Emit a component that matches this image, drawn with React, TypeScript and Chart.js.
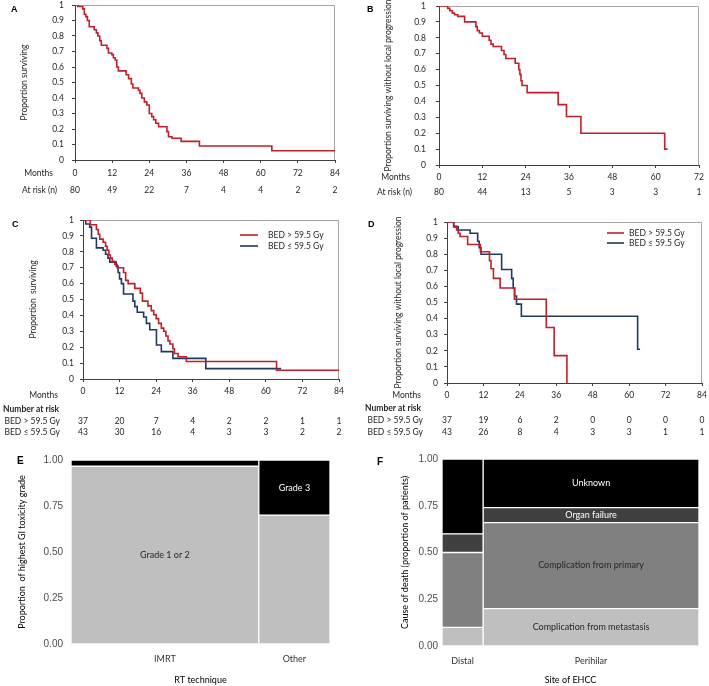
import React, { useEffect, useRef } from 'react';
import { Chart, registerables } from 'chart.js';

Chart.register(...registerables);

const SANS = 'Lato, "Open Sans", sans-serif';
const LETTER_FONT = '"Liberation Sans", Arial, sans-serif';
const TXT = '#262626';
const AXIS = '#404040';
const FRAME = '#a6a6a6';
const RED = '#c0202a';
const NAVY = '#203864';

// ---------- Panel A: overall survival ----------
const osMonths = [0, 0.9, 2.5, 3.0, 3.5, 4.0, 4.6, 6.2, 6.9, 7.4, 8.0, 8.5, 10.3, 10.8, 11.9, 12.4, 13.0, 13.5, 14.0, 16.5, 17.3, 18.2, 18.7, 20.5, 21.0, 21.6, 22.4, 23.2, 24.0, 24.8, 25.4, 26.1, 27.0, 29.7, 30.2, 31.3, 34.3, 40.2, 63.6, 84];
const osProb = [1, 0.99, 0.975, 0.94, 0.925, 0.9, 0.86, 0.84, 0.82, 0.8, 0.77, 0.74, 0.72, 0.69, 0.68, 0.66, 0.645, 0.6, 0.575, 0.55, 0.525, 0.49, 0.465, 0.45, 0.43, 0.4, 0.375, 0.355, 0.3, 0.28, 0.26, 0.237, 0.215, 0.183, 0.15, 0.14, 0.12, 0.09, 0.06, 0.06];
const riskMonths84 = [0, 12, 24, 36, 48, 60, 72, 84];
const riskMonths72 = [0, 12, 24, 36, 48, 60, 72];
const osAtRisk = [80, 49, 22, 7, 4, 4, 2, 2];

// ---------- Panel B: survival without local progression ----------
const lpMonths = [0, 2.4, 3.0, 3.7, 4.3, 5.2, 7.1, 10.2, 10.6, 11.2, 12.0, 13.9, 14.4, 15.0, 17.3, 18.0, 18.5, 21.1, 22.1, 22.4, 22.7, 23.0, 24.4, 33.0, 35.3, 39.3, 62.5, 63.3];
const lpProb = [1, 0.985, 0.97, 0.955, 0.945, 0.935, 0.9, 0.87, 0.845, 0.83, 0.81, 0.785, 0.76, 0.745, 0.72, 0.695, 0.67, 0.64, 0.6, 0.57, 0.53, 0.5, 0.455, 0.38, 0.305, 0.2, 0.1, 0.1];
const lpAtRisk = [80, 44, 13, 5, 3, 3, 1];

// ---------- Panel C: survival by BED ----------
const osHighMonths = [0, 2.4, 4.4, 5.0, 5.5, 6.6, 7.4, 7.9, 8.5, 9.0, 9.6, 10.4, 11.2, 13.3, 14.0, 14.8, 17.0, 18.8, 19.5, 21.3, 22.4, 23.2, 24.0, 24.8, 25.7, 26.5, 27.2, 27.9, 28.5, 29.5, 30.0, 31.2, 33.9, 63.5, 84];
const osHighProb = [1, 0.97, 0.94, 0.91, 0.88, 0.86, 0.835, 0.81, 0.78, 0.76, 0.74, 0.72, 0.7, 0.67, 0.62, 0.6, 0.57, 0.54, 0.49, 0.46, 0.43, 0.405, 0.38, 0.35, 0.32, 0.3, 0.27, 0.24, 0.22, 0.19, 0.16, 0.14, 0.11, 0.055, 0.055];
const osLowMonths = [0, 0.9, 2.2, 2.8, 4.4, 6.6, 7.4, 8.2, 8.8, 10.9, 11.5, 12.0, 12.6, 13.3, 16.4, 17.0, 17.8, 19.9, 20.8, 21.9, 24.1, 25.7, 29.5, 40.3, 65.0];
const osLowProb = [1, 0.975, 0.955, 0.885, 0.825, 0.81, 0.785, 0.76, 0.735, 0.71, 0.67, 0.63, 0.6, 0.535, 0.49, 0.455, 0.42, 0.39, 0.35, 0.31, 0.214, 0.172, 0.13, 0.065, 0.065];
const osHighAtRisk = [37, 20, 7, 4, 2, 2, 1, 1];
const osLowAtRisk = [43, 30, 16, 4, 3, 3, 2, 2];

// ---------- Panel D: survival without local progression by BED ----------
const lpHighMonths = [0, 2.2, 3.2, 3.7, 4.3, 6.8, 11.0, 14.0, 14.5, 15.3, 17.5, 22.2, 32.7, 35.3, 39.5];
const lpHighProb = [1, 0.975, 0.95, 0.93, 0.91, 0.86, 0.815, 0.76, 0.71, 0.65, 0.59, 0.52, 0.345, 0.17, 0];
const lpLowMonths = [0, 2.2, 3.7, 7.6, 10.1, 10.6, 11.2, 18.0, 21.3, 21.8, 22.3, 22.9, 24.5, 62.8, 63.6];
const lpLowProb = [1, 0.97, 0.95, 0.93, 0.88, 0.84, 0.8, 0.705, 0.65, 0.59, 0.54, 0.49, 0.415, 0.21, 0.21];
const lpHighAtRisk = [37, 19, 6, 2, 0, 0, 0, 0];
const lpLowAtRisk = [43, 26, 8, 4, 3, 3, 1, 1];

const bedHigh = 'BED > 59.5 Gy';
const bedLow = 'BED \u2264 59.5 Gy';

// ---------- Panel E: GI toxicity by RT technique ----------
const techniques = ['IMRT', 'Other'];
const techShare = [0.725, 0.275];
const grade12 = [0.966, 0.7];
const grade3 = [0.034, 0.3];

// ---------- Panel F: cause of death by site ----------
const sites = ['Distal', 'Perihilar'];
const siteShare = [0.16, 0.84];
const deathMetastasis = [0.1, 0.2];
const deathPrimary = [0.4, 0.46];
const deathOrgan = [0.1, 0.08];
const deathUnknown = [0.4, 0.26];

type Area = { l: number; t: number; r: number; b: number };

function fixedScale(size: number) {
  return (scale: any) => {
    if (scale.isHorizontal()) scale.height = size;
    else scale.width = size;
    scale.paddingLeft = 0;
    scale.paddingRight = 0;
    scale.paddingTop = 0;
    scale.paddingBottom = 0;
  };
}

const framePlugin = {
  id: 'frame',
  beforeDraw(chart: any) {
    const { ctx, chartArea: a } = chart;
    ctx.save();
    ctx.strokeStyle = FRAME;
    ctx.lineWidth = 1;
    ctx.beginPath();
    ctx.moveTo(a.left, a.top + 0.5);
    ctx.lineTo(a.right - 0.5, a.top + 0.5);
    ctx.lineTo(a.right - 0.5, a.bottom);
    ctx.stroke();
    ctx.restore();
  },
};

type TextItem = { text: string; x: number; y: number; align: CanvasTextAlign; bold?: boolean };
type CountRow = { values: number[]; months: number[]; y: number };

function tablePlugin(texts: TextItem[], rows: CountRow[]) {
  return {
    id: 'riskTable',
    afterDraw(chart: any) {
      const { ctx } = chart;
      const xs = chart.scales.x;
      ctx.save();
      ctx.fillStyle = TXT;
      ctx.textBaseline = 'middle';
      texts.forEach((t) => {
        ctx.font = `${t.bold ? 'bold ' : ''}8.5px ${SANS}`;
        ctx.textAlign = t.align;
        ctx.fillText(t.text, t.x, t.y);
      });
      ctx.font = `8.5px ${SANS}`;
      ctx.textAlign = 'center';
      rows.forEach((r) =>
        r.values.forEach((v, i) => ctx.fillText(String(v), xs.getPixelForValue(r.months[i]), r.y))
      );
      ctx.restore();
    },
  };
}

function legendPlugin(ys: number[], x0: number, x1: number, tx: number) {
  return {
    id: 'kmLegend',
    afterDraw(chart: any) {
      const { ctx } = chart;
      ctx.save();
      ctx.font = `8.5px ${SANS}`;
      ctx.textAlign = 'left';
      ctx.textBaseline = 'middle';
      chart.data.datasets.forEach((ds: any, i: number) => {
        ctx.strokeStyle = ds.borderColor;
        ctx.lineWidth = 1.6;
        ctx.beginPath();
        ctx.moveTo(x0, ys[i]);
        ctx.lineTo(x1, ys[i]);
        ctx.stroke();
        ctx.fillStyle = TXT;
        ctx.fillText(ds.label, tx, ys[i]);
      });
      ctx.restore();
    },
  };
}

type Curve = { label: string; months: number[]; probs: number[]; color: string };

function kmConfig(o: {
  w: number;
  h: number;
  area: Area;
  xMax: number;
  curves: Curve[];
  yTitle: string;
  yTitleX: number;
  yTickPad: number;
  xTickPad: number;
  extra: any[];
}) {
  const tickFont = { family: SANS, size: 8.5 };
  return {
    type: 'line',
    data: {
      datasets: o.curves.map((c) => ({
        label: c.label,
        data: c.months.map((m, i) => ({ x: m, y: c.probs[i] })),
        borderColor: c.color,
        backgroundColor: c.color,
        borderWidth: 1.6,
        pointRadius: 0,
        stepped: 'before',
        fill: false,
      })),
    },
    options: {
      responsive: false,
      animation: false,
      events: [],
      layout: { padding: { left: 0, top: o.area.t, right: o.w - o.area.r, bottom: 0 } },
      plugins: { legend: { display: false }, tooltip: { enabled: false } },
      scales: {
        x: {
          type: 'linear',
          min: 0,
          max: o.xMax,
          afterFit: fixedScale(o.h - o.area.b),
          ticks: { stepSize: 12, font: tickFont, color: TXT, padding: o.xTickPad, maxRotation: 0 },
          grid: { display: true, drawOnChartArea: false, drawTicks: true, tickLength: 3, color: AXIS },
          border: { display: true, color: AXIS, width: 1 },
        },
        y: {
          type: 'linear',
          min: 0,
          max: 1,
          afterFit: fixedScale(o.area.l),
          ticks: {
            stepSize: 0.1,
            font: tickFont,
            color: TXT,
            padding: o.yTickPad,
            callback: (v: any) => String(Math.round(Number(v) * 10) / 10),
          },
          grid: { display: true, drawOnChartArea: false, drawTicks: true, tickLength: 3, color: AXIS },
          border: { display: true, color: AXIS, width: 1 },
          title: {
            display: true,
            text: o.yTitle,
            font: { family: SANS, size: 8.5 },
            color: TXT,
            padding: { top: o.yTitleX - 5.1, bottom: 0 },
          },
        },
      },
    },
    plugins: [framePlugin, ...o.extra],
  };
}

type Seg = { label: string; color: string; values: number[]; textColor: string; labelCol: number };

function mosaicConfig(o: {
  w: number;
  h: number;
  area: Area;
  names: string[];
  shares: number[];
  segs: Seg[];
  yTitle: string;
  yTitleX: number;
  xTitle: string;
  yTickPad: number;
  xTickPad: number;
}) {
  const plotW = o.area.r - o.area.l;
  const starts: number[] = [];
  o.shares.reduce((acc, s) => {
    starts.push(acc);
    return acc + s;
  }, 0);
  const centers = starts.map((s, i) => s + o.shares[i] / 2);
  const datasets: any[] = [];
  o.names.forEach((name, i) => {
    let lo = 0;
    o.segs.forEach((seg) => {
      const hi = lo + seg.values[i];
      datasets.push({
        label: `${seg.label} (${name})`,
        data: [{ x: centers[i], y: [lo, hi] }],
        backgroundColor: seg.color,
        borderColor: '#ffffff',
        borderWidth: 1,
        borderSkipped: false,
        barThickness: o.shares[i] * plotW,
        stack: 'mosaic',
      });
      lo = hi;
    });
  });
  const segLabels = {
    id: 'segLabels',
    afterDatasetsDraw(chart: any) {
      const { ctx } = chart;
      const xs = chart.scales.x;
      const ys = chart.scales.y;
      ctx.save();
      ctx.font = `9px ${SANS}`;
      ctx.textAlign = 'center';
      ctx.textBaseline = 'middle';
      o.segs.forEach((seg, k) => {
        const i = seg.labelCol;
        let lo = 0;
        for (let j = 0; j < k; j++) lo += o.segs[j].values[i];
        const mid = lo + seg.values[i] / 2;
        ctx.fillStyle = seg.textColor;
        ctx.fillText(seg.label, xs.getPixelForValue(centers[i]), ys.getPixelForValue(mid));
      });
      ctx.restore();
    },
  };
  return {
    type: 'bar',
    data: { datasets },
    options: {
      responsive: false,
      animation: false,
      events: [],
      layout: { padding: { left: 0, top: o.area.t, right: o.w - o.area.r, bottom: 0 } },
      plugins: { legend: { display: false }, tooltip: { enabled: false } },
      scales: {
        x: {
          type: 'linear',
          min: 0,
          max: 1,
          offset: false,
          stacked: true,
          afterFit: fixedScale(o.h - o.area.b),
          afterBuildTicks: (s: any) => {
            s.ticks = centers.map((v) => ({ value: v }));
          },
          ticks: {
            callback: (_v: any, i: number) => o.names[i],
            autoSkip: false,
            maxRotation: 0,
            padding: o.xTickPad,
            font: { family: SANS, size: 9 },
            color: '#333333',
          },
          grid: { display: false, drawTicks: false, offset: false },
          border: { display: false },
          title: {
            display: true,
            text: o.xTitle,
            font: { family: SANS, size: 9 },
            color: '#000000',
            padding: { top: 0, bottom: 1 },
          },
        },
        y: {
          type: 'linear',
          min: 0,
          max: 1,
          stacked: false,
          afterFit: fixedScale(o.area.l),
          ticks: {
            stepSize: 0.25,
            callback: (v: any) => Number(v).toFixed(2),
            padding: o.yTickPad,
            font: { family: LETTER_FONT, size: 10 },
            color: '#4d4d4d',
          },
          grid: { display: false, drawTicks: false },
          border: { display: false },
          title: {
            display: true,
            text: o.yTitle,
            font: { family: SANS, size: 9 },
            color: '#000000',
            padding: { top: o.yTitleX - 5.4, bottom: 0 },
          },
        },
      },
    },
    plugins: [segLabels],
  };
}

function ChartCanvas(p: { left: number; top: number; width: number; height: number; make: () => any }) {
  const ref = useRef<HTMLCanvasElement | null>(null);
  useEffect(() => {
    if (!ref.current) return;
    const chart = new Chart(ref.current, p.make());
    return () => chart.destroy();
  }, []);
  return (
    <canvas
      ref={ref}
      width={p.width}
      height={p.height}
      style={{ position: 'absolute', left: p.left, top: p.top, width: p.width, height: p.height }}
    />
  );
}

const makeA = () =>
  kmConfig({
    w: 355,
    h: 205,
    area: { l: 75, t: 5, r: 335, b: 160 },
    xMax: 84,
    curves: [{ label: 'Overall survival', months: osMonths, probs: osProb, color: RED }],
    yTitle: 'Proportion surviving',
    yTitleX: 24,
    yTickPad: 8,
    xTickPad: 5,
    extra: [
      tablePlugin(
        [
          { text: 'Months', x: 53, y: 173, align: 'right' },
          { text: 'At risk (n)', x: 57, y: 190, align: 'right' },
        ],
        [{ values: osAtRisk, months: riskMonths84, y: 190 }]
      ),
    ],
  });

const makeB = () =>
  kmConfig({
    w: 354,
    h: 205,
    area: { l: 84, t: 6, r: 344, b: 165 },
    xMax: 72,
    curves: [{ label: 'Survival without local progression', months: lpMonths, probs: lpProb, color: RED }],
    yTitle: 'Proportion surviving without local progression',
    yTitleX: 33,
    yTickPad: 10,
    xTickPad: 4,
    extra: [
      tablePlugin(
        [
          { text: 'Months', x: 55, y: 177, align: 'right' },
          { text: 'At risk (n)', x: 57, y: 192, align: 'right' },
        ],
        [{ values: lpAtRisk, months: riskMonths72, y: 192 }]
      ),
    ],
  });

const makeC = () =>
  kmConfig({
    w: 355,
    h: 235,
    area: { l: 83, t: 15, r: 339, b: 174 },
    xMax: 84,
    curves: [
      { label: bedHigh, months: osHighMonths, probs: osHighProb, color: RED },
      { label: bedLow, months: osLowMonths, probs: osLowProb, color: NAVY },
    ],
    yTitle: 'Proportion  surviving',
    yTitleX: 33,
    yTickPad: 6,
    xTickPad: 4,
    extra: [
      legendPlugin([30, 41], 240, 258, 268),
      tablePlugin(
        [
          { text: 'Months', x: 58, y: 190, align: 'right' },
          { text: 'Number at risk', x: 3, y: 204, align: 'left', bold: true },
          { text: bedHigh, x: 60, y: 216, align: 'right' },
          { text: bedLow, x: 60, y: 227, align: 'right' },
        ],
        [
          { values: osHighAtRisk, months: riskMonths84, y: 216 },
          { values: osLowAtRisk, months: riskMonths84, y: 227 },
        ]
      ),
    ],
  });

const makeD = () =>
  kmConfig({
    w: 354,
    h: 235,
    area: { l: 92, t: 17, r: 347, b: 178 },
    xMax: 84,
    curves: [
      { label: bedHigh, months: lpHighMonths, probs: lpHighProb, color: RED },
      { label: bedLow, months: lpLowMonths, probs: lpLowProb, color: NAVY },
    ],
    yTitle: 'Proportion surviving without local progression',
    yTitleX: 43,
    yTickPad: 6,
    xTickPad: 4,
    extra: [
      legendPlugin([28, 38], 252, 269, 274),
      tablePlugin(
        [
          { text: 'Months', x: 66, y: 190, align: 'right' },
          { text: 'Number at risk', x: 10, y: 203, align: 'left', bold: true },
          { text: bedHigh, x: 68, y: 215, align: 'right' },
          { text: bedLow, x: 68, y: 227, align: 'right' },
        ],
        [
          { values: lpHighAtRisk, months: riskMonths84, y: 215 },
          { values: lpLowAtRisk, months: riskMonths84, y: 227 },
        ]
      ),
    ],
  });

const makeE = () =>
  mosaicConfig({
    w: 355,
    h: 246,
    area: { l: 71, t: 20, r: 330, b: 204 },
    names: techniques,
    shares: techShare,
    segs: [
      { label: 'Grade 1 or 2', color: '#bfbfbf', values: grade12, textColor: '#262626', labelCol: 0 },
      { label: 'Grade 3', color: '#000000', values: grade3, textColor: '#ffffff', labelCol: 1 },
    ],
    yTitle: 'Proportion  of highest GI toxicity grade',
    yTitleX: 22,
    xTitle: 'RT technique',
    yTickPad: 8,
    xTickPad: 10,
  });

const makeF = () =>
  mosaicConfig({
    w: 354,
    h: 246,
    area: { l: 87, t: 19, r: 344, b: 206 },
    names: sites,
    shares: siteShare,
    segs: [
      { label: 'Complication from metastasis', color: '#bfbfbf', values: deathMetastasis, textColor: '#262626', labelCol: 1 },
      { label: 'Complication from primary', color: '#808080', values: deathPrimary, textColor: '#262626', labelCol: 1 },
      { label: 'Organ failure', color: '#404040', values: deathOrgan, textColor: '#ffffff', labelCol: 1 },
      { label: 'Unknown', color: '#000000', values: deathUnknown, textColor: '#ffffff', labelCol: 1 },
    ],
    yTitle: 'Cause of death (proportion of patients)',
    yTitleX: 50,
    xTitle: 'Site of EHCC',
    yTickPad: 4,
    xTickPad: 10,
  });

const letters = [
  { t: 'A', x: 11, y: 9.5, s: 9 },
  { t: 'B', x: 367, y: 9.5, s: 9 },
  { t: 'C', x: 12, y: 225, s: 9 },
  { t: 'D', x: 368, y: 225, s: 9 },
  { t: 'E', x: 17, y: 460, s: 10 },
  { t: 'F', x: 377, y: 461, s: 10 },
];

export default function App() {
  return (
    <div
      style={{
        position: 'absolute',
        left: 0,
        top: 0,
        width: 709,
        height: 686,
        background: '#ffffff',
        overflow: 'hidden',
      }}
    >
      <ChartCanvas left={0} top={0} width={355} height={205} make={makeA} />
      <ChartCanvas left={355} top={0} width={354} height={205} make={makeB} />
      <ChartCanvas left={0} top={205} width={355} height={235} make={makeC} />
      <ChartCanvas left={355} top={205} width={354} height={235} make={makeD} />
      <ChartCanvas left={0} top={440} width={355} height={246} make={makeE} />
      <ChartCanvas left={355} top={440} width={354} height={246} make={makeF} />
      {letters.map((l) => (
        <div
          key={l.t}
          style={{
            position: 'absolute',
            left: l.x,
            top: l.y - l.s * 0.55,
            fontFamily: LETTER_FONT,
            fontWeight: 'bold',
            fontSize: l.s,
            lineHeight: `${l.s * 1.1}px`,
            color: '#000',
          }}
        >
          {l.t}
        </div>
      ))}
    </div>
  );
}
